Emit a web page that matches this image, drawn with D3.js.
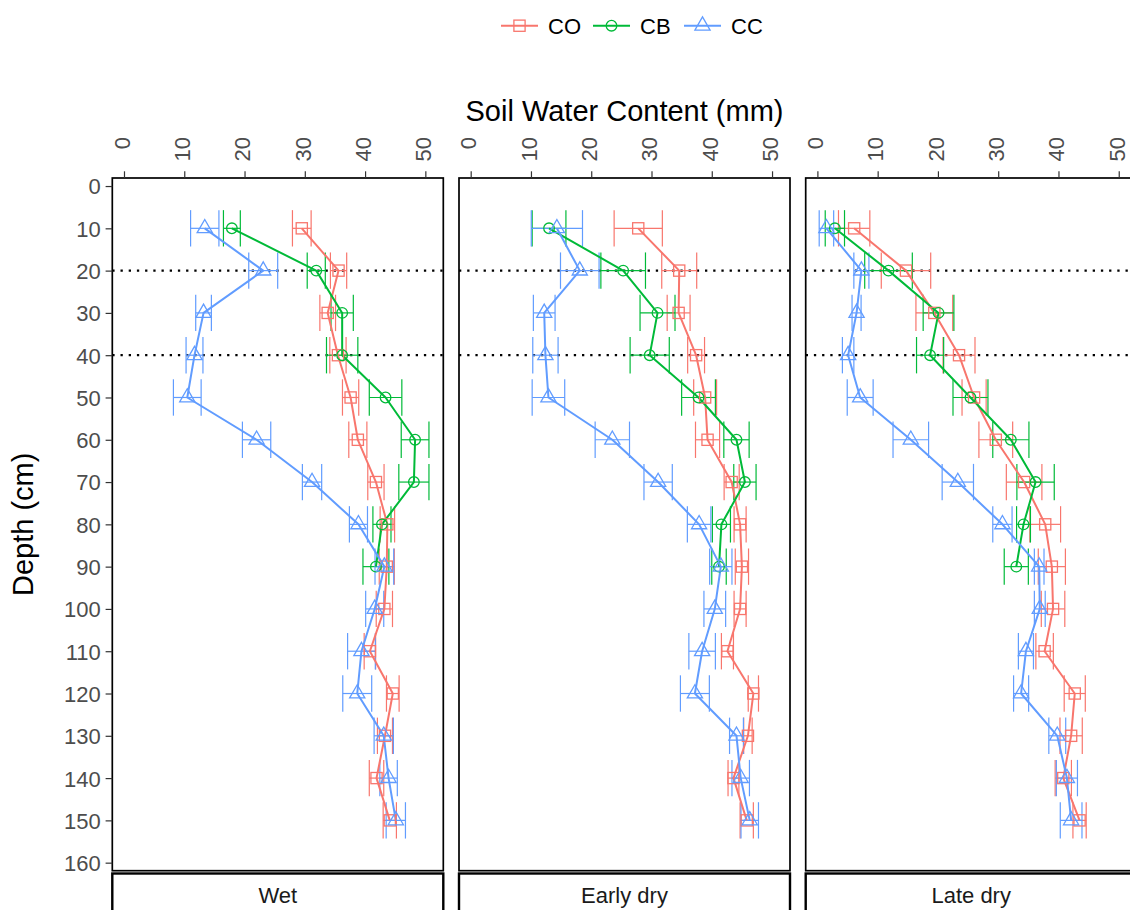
<!DOCTYPE html>
<html>
<head>
<meta charset="utf-8">
<script src="https://cdn.jsdelivr.net/npm/d3@7"></script>
<style>
  html, body { margin: 0; padding: 0; background: #fff; }
  svg { display: block; font-family: "Liberation Sans", Arial, sans-serif; }
</style>
</head>
<body>
<svg id="chart" width="1130" height="910"></svg>
<script>
// Soil water content profiles by depth, three sampling periods
const periods = ["Wet", "Early dry", "Late dry"];
const treatments = ["CO", "CB", "CC"];
const depths = [10, 20, 30, 40, 50, 60, 70, 80, 90, 100, 110, 120, 130, 140, 150];
const depthsCB = [10, 20, 30, 40, 50, 60, 70, 80, 90];
const depthTicks = [0, 10, 20, 30, 40, 50, 60, 70, 80, 90, 100, 110, 120, 130, 140, 150, 160];
const waterTicks = [0, 10, 20, 30, 40, 50];
const refDepths = [20, 40];

// Wet
const wetCO    = [29.5, 35.6, 33.8, 35.5, 37.6, 38.8, 41.8, 43.7, 43.6, 43.2, 40.8, 44.6, 43.3, 41.9, 44.1];
const wetCOse  = [1.55, 1.35, 1.3, 1.35, 1.35, 1.5, 1.35, 1.2, 1.25, 1.35, 0.95, 1.05, 1.25, 1.2, 1.1];
const wetCB    = [17.9, 31.9, 36.2, 36.2, 43.4, 48.3, 48.1, 42.8, 41.8];
const wetCBse  = [1.4, 1.5, 1.85, 2.6, 2.7, 2.3, 2.5, 1.5, 2.15];
const wetCC    = [13.4, 23.1, 13.2, 11.7, 10.5, 22.0, 31.2, 38.9, 43.2, 41.6, 39.4, 38.7, 43.1, 43.9, 45.1];
const wetCCse  = [2.35, 2.4, 1.3, 1.4, 2.3, 2.35, 1.6, 1.5, 1.55, 1.5, 2.3, 2.4, 1.6, 1.45, 1.6];

// Early dry
const earlyCO   = [27.8, 34.6, 34.5, 37.4, 38.9, 39.3, 43.3, 44.7, 45.0, 44.7, 42.6, 46.9, 46.0, 43.6, 45.8];
const earlyCOse = [4.0, 2.9, 1.9, 1.4, 1.9, 2.0, 1.25, 1.0, 1.1, 1.0, 1.0, 0.85, 0.7, 0.9, 1.1];
const earlyCB   = [13.0, 25.3, 31.0, 29.7, 37.8, 44.1, 45.5, 41.6, 41.2];
const earlyCBse = [2.8, 3.7, 2.9, 3.25, 2.8, 2.1, 1.85, 1.5, 1.2];
const earlyCC   = [14.3, 18.1, 12.2, 12.4, 12.9, 23.5, 31.1, 37.9, 41.5, 40.5, 38.4, 37.2, 44.1, 44.8, 46.3];
const earlyCCse = [4.25, 3.2, 1.8, 2.1, 2.7, 2.85, 2.35, 1.95, 1.85, 1.8, 2.2, 2.4, 1.15, 1.45, 1.45];

// Late dry
const lateCO   = [6.1, 14.7, 19.4, 23.5, 26.0, 29.6, 34.3, 37.8, 38.9, 39.1, 37.7, 42.7, 42.1, 40.8, 43.5];
const lateCOse = [2.6, 4.1, 3.05, 2.65, 2.0, 2.8, 2.95, 2.55, 2.25, 1.95, 1.45, 1.75, 1.85, 1.35, 1.1];
const lateCB   = [2.9, 11.8, 20.1, 18.7, 25.4, 32.1, 36.2, 34.2, 33.0];
const lateCBse = [1.6, 3.95, 2.55, 2.25, 2.9, 3.0, 3.1, 1.15, 2.0];
const lateCC   = [1.5, 7.3, 6.5, 5.1, 7.1, 15.5, 23.3, 30.7, 36.8, 36.9, 34.6, 33.8, 39.8, 41.4, 42.1];
const lateCCse = [1.2, 1.25, 0.75, 0.95, 2.15, 2.95, 2.6, 1.6, 0.8, 0.9, 1.25, 1.25, 1.4, 1.75, 1.8];

const colors = { CO: "#F8766D", CB: "#00BA38", CC: "#619CFF" };

function series(d, m, se) { return d.map((dep, i) => ({ depth: dep, mean: m[i], se: se[i] })); }
const panels = [
  { name: periods[0], groups: { CO: series(depths, wetCO, wetCOse), CB: series(depthsCB, wetCB, wetCBse), CC: series(depths, wetCC, wetCCse) } },
  { name: periods[1], groups: { CO: series(depths, earlyCO, earlyCOse), CB: series(depthsCB, earlyCB, earlyCBse), CC: series(depths, earlyCC, earlyCCse) } },
  { name: periods[2], groups: { CO: series(depths, lateCO, lateCOse), CB: series(depthsCB, lateCB, lateCBse), CC: series(depths, lateCC, lateCCse) } }
];

// layout
const panelLeft = [112.3, 459.0, 805.7];
const panelW = 331;
const panelTop = 178, panelBottom = 870.7;
const capHalf = 4.3; // error-bar cap half-height in depth units

const x = d3.scaleLinear().domain([-1.94, 52.98]).range([0, panelW]);
const y = d3.scaleLinear().domain([-1.9, 161.9]).range([panelTop, panelBottom]);

const svg = d3.select("#chart");

function drawMarker(g, key, cx, cy) {
  const col = colors[key];
  if (key === "CO") {
    g.append("rect").attr("x", cx - 5.6).attr("y", cy - 5.6).attr("width", 11.2).attr("height", 11.2)
      .attr("fill", "none").attr("stroke", col).attr("stroke-width", 1.3);
  } else if (key === "CB") {
    g.append("circle").attr("cx", cx).attr("cy", cy).attr("r", 5.3)
      .attr("fill", "none").attr("stroke", col).attr("stroke-width", 1.3);
  } else {
    const s = 7.6;
    g.append("path").attr("d", `M${cx},${cy - 8.8}L${cx + s},${cy + 4.4}L${cx - s},${cy + 4.4}Z`)
      .attr("fill", "none").attr("stroke", col).attr("stroke-width", 1.3);
  }
}

panels.forEach((p, pi) => {
  const g = svg.append("g").attr("transform", `translate(${panelLeft[pi]},0)`);

  // reference depths
  g.selectAll("line.ref").data(refDepths).join("line")
    .attr("x1", 0).attr("x2", panelW)
    .attr("y1", d => y(d)).attr("y2", d => y(d))
    .attr("stroke", "#000").attr("stroke-width", 2.3)
    .attr("stroke-dasharray", "2.3,5.9");

  // error bars
  treatments.forEach(k => {
    const eg = g.append("g").attr("stroke", colors[k]).attr("stroke-width", 1.2).attr("fill", "none");
    p.groups[k].forEach(d => {
      const x0 = x(d.mean - d.se), x1 = x(d.mean + d.se);
      const y0 = y(d.depth - capHalf), y1 = y(d.depth + capHalf), yc = y(d.depth);
      eg.append("line").attr("x1", x0).attr("x2", x1).attr("y1", yc).attr("y2", yc);
      eg.append("line").attr("x1", x0).attr("x2", x0).attr("y1", y0).attr("y2", y1);
      eg.append("line").attr("x1", x1).attr("x2", x1).attr("y1", y0).attr("y2", y1);
    });
  });

  // profile lines
  const line = d3.line().x(d => x(d.mean)).y(d => y(d.depth));
  treatments.forEach(k => {
    g.append("path").datum(p.groups[k]).attr("d", line)
      .attr("fill", "none").attr("stroke", colors[k]).attr("stroke-width", 2)
      .attr("stroke-linejoin", "round");
  });

  // points
  treatments.forEach(k => {
    const mg = g.append("g");
    p.groups[k].forEach(d => drawMarker(mg, k, x(d.mean), y(d.depth)));
  });

  // panel frame
  g.append("rect").attr("x", 0).attr("y", panelTop).attr("width", panelW).attr("height", panelBottom - panelTop)
    .attr("fill", "none").attr("stroke", "#000").attr("stroke-width", 1.7);

  // top axis
  const ax = g.append("g").attr("transform", `translate(0,${panelTop})`)
    .call(d3.axisTop(x).tickValues(waterTicks).tickSize(6.7).tickSizeOuter(0).tickFormat(d3.format("d")));
  ax.select(".domain").remove();
  ax.selectAll(".tick line").attr("stroke", "#333").attr("stroke-width", 1.2);
  ax.selectAll(".tick text")
    .attr("x", 0).attr("y", 0).attr("dy", "0.24em")
    .attr("transform", "translate(0,-41) rotate(-90)")
    .attr("text-anchor", "end")
    .attr("fill", "#4D4D4D").style("font-size", "22px").style("font-family", "Liberation Sans, Arial, sans-serif");

  // strip
  g.append("rect").attr("x", 0).attr("y", 873.5).attr("width", panelW).attr("height", 46)
    .attr("fill", "#fff").attr("stroke", "#000").attr("stroke-width", 2.4);
  g.append("text").attr("x", panelW / 2).attr("y", 903).attr("text-anchor", "middle")
    .attr("fill", "#1A1A1A").style("font-size", "22px").text(p.name);
});

// left depth axis
const ay = svg.append("g").attr("transform", `translate(${panelLeft[0]},0)`)
  .call(d3.axisLeft(y).tickValues(depthTicks).tickSize(6.7).tickSizeOuter(0).tickFormat(d3.format("d")));
ay.select(".domain").remove();
ay.selectAll(".tick line").attr("stroke", "#333").attr("stroke-width", 1.2);
ay.selectAll(".tick text").attr("x", -11.5).attr("dy", "0.36em")
  .attr("fill", "#4D4D4D").style("font-size", "22px").style("font-family", "Liberation Sans, Arial, sans-serif");

// axis titles
svg.append("text").attr("x", 624.5).attr("y", 121).attr("text-anchor", "middle")
  .style("font-size", "29px").attr("fill", "#000").text("Soil Water Content (mm)");
svg.append("text").attr("transform", `translate(33,${(panelTop + panelBottom) / 2}) rotate(-90)`)
  .attr("text-anchor", "middle").style("font-size", "29px").attr("fill", "#000").text("Depth (cm)");

// legend
const legendKeys = [
  { key: "CO", x: 501 },
  { key: "CB", x: 593 },
  { key: "CC", x: 684 }
];
const lg = svg.append("g");
legendKeys.forEach(l => {
  const ly = 25.7;
  lg.append("line").attr("x1", l.x).attr("x2", l.x + 37).attr("y1", ly).attr("y2", ly)
    .attr("stroke", colors[l.key]).attr("stroke-width", 2);
  drawMarker(lg, l.key, l.x + 18.5, ly);
  lg.append("text").attr("x", l.x + 47).attr("y", ly).attr("dy", "0.36em")
    .style("font-size", "22px").attr("fill", "#000").text(l.key);
});
</script>
</body>
</html>
